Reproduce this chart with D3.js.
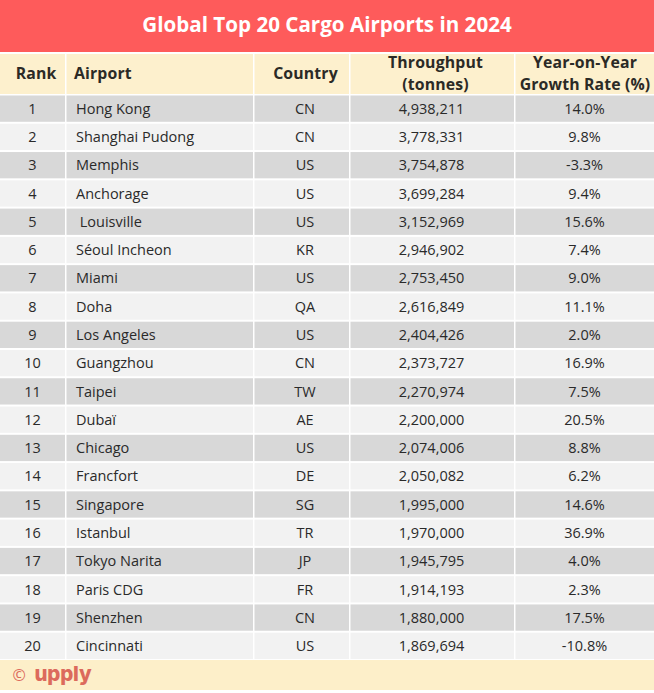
<!DOCTYPE html>
<html>
<head>
<meta charset="utf-8">
<script src="https://cdnjs.cloudflare.com/ajax/libs/d3/7.8.5/d3.min.js"></script>
<style>
  html, body { margin: 0; padding: 0; background: #fff; }
  svg { display: block; font-family: "Open Sans", sans-serif; }
  text { white-space: pre; }
</style>
</head>
<body>
<div id="chart"></div>
<script>
// Table content
const ranks = d3.range(1, 21).map(String);
const airports = ['Hong Kong', 'Shanghai Pudong', 'Memphis', 'Anchorage', ' Louisville', 'Séoul Incheon', 'Miami', 'Doha', 'Los Angeles', 'Guangzhou', 'Taipei', 'Dubaï', 'Chicago', 'Francfort', 'Singapore', 'Istanbul', 'Tokyo Narita', 'Paris CDG', 'Shenzhen', 'Cincinnati'];
const countries = ['CN', 'CN', 'US', 'US', 'US', 'KR', 'US', 'QA', 'US', 'CN', 'TW', 'AE', 'US', 'DE', 'SG', 'TR', 'JP', 'FR', 'CN', 'US'];
const throughput = [4938211, 3778331, 3754878, 3699284, 3152969, 2946902, 2753450, 2616849, 2404426, 2373727, 2270974, 2200000, 2074006, 2050082, 1995000, 1970000, 1945795, 1914193, 1880000, 1869694];
const growth = [14.0, 9.8, -3.3, 9.4, 15.6, 7.4, 9.0, 11.1, 2.0, 16.9, 7.5, 20.5, 8.8, 6.2, 14.6, 36.9, 4.0, 2.3, 17.5, -10.8];

const columns = ['Rank', 'Airport', 'Country', 'Throughput', 'Growth'];
const headerLines = [['Rank'], ['Airport'], ['Country'], ['Throughput', '(tonnes)'], ['Year-on-Year', 'Growth Rate (%)']];
const columnEdges = [0, 65, 253, 349, 514, 654];
// text centres differ a little from the cell centres in the original
const headerCentre = [36, 0, 305.5, 435.5, 585];
const cellCentre = [32.5, 0, 305, 431.5, 584.5];

const width = 654;
const height = 693;

const svg = d3.select('#chart')
    .append('svg')
    .attr('width', width)
    .attr('height', height);

// Row positions
const y = d3.scaleBand()
    .domain(ranks)
    .range([94.5, 660])
    .paddingInner(0.07)
    .paddingOuter(0.035);

const colX = d3.scaleOrdinal().domain(columns).range(columnEdges.slice(0, 5));
const colW = d3.scaleOrdinal().domain(columns).range(columnEdges.slice(1).map((d, i) => d - columnEdges[i]));

// Title band
svg.append('rect')
    .attr('width', width)
    .attr('height', 52)
    .attr('fill', '#fe5b5b');

svg.append('text')
    .attr('x', 327)
    .attr('y', 32)
    .attr('text-anchor', 'middle')
    .attr('fill', '#fff')
    .attr('font-size', 20.6)
    .attr('font-weight', 700)
    .text('Global Top 20 Cargo Airports in 2024');

// Header cells
const header = svg.append('g').attr('class', 'header');

columns.forEach(function(c, i) {
    const x0 = colX(c);
    const w = colW(c);
    const left = i === 0 ? x0 : x0 + 1.5;
    header.append('rect')
        .attr('x', left)
        .attr('y', 54)
        .attr('width', w - (left - x0))
        .attr('height', 40)
        .attr('fill', '#fdf0cd');

    const lines = headerLines[i];
    lines.forEach(function(line, k) {
        const label = header.append('text')
            .attr('fill', '#2b2a26')
            .attr('font-size', 15.8)
            .attr('letter-spacing', 0.15)
            .attr('font-weight', 700)
            .attr('y', lines.length === 1 ? 79 : 68.4 + k * 21.6)
            .text(line);
        if (c === 'Airport') {
            label.attr('x', 74);
        } else {
            label.attr('x', headerCentre[i]).attr('text-anchor', 'middle');
        }
    });
});

// Body rows
const rows = svg.append('g')
    .attr('class', 'rows')
    .selectAll('g')
    .data(ranks)
    .enter()
    .append('g');

const cellText = [
    (d, i) => d,
    (d, i) => airports[i],
    (d, i) => countries[i],
    (d, i) => d3.format(',')(throughput[i]),
    (d, i) => growth[i].toFixed(1) + '%'
];

columns.forEach(function(c, j) {
    const x0 = colX(c);
    const w = colW(c);
    const left = j === 0 ? x0 : x0 + 1.5;

    rows.append('rect')
        .attr('x', left)
        .attr('y', d => y(d))
        .attr('width', w - (left - x0))
        .attr('height', y.bandwidth())
        .attr('fill', (d, i) => i % 2 === 0 ? '#d8d8d8' : '#f2f2f2');

    rows.append('text')
        .attr('x', c === 'Airport' ? 76 : cellCentre[j])
        .attr('y', d => y(d) + y.bandwidth() / 2 + 5.2)
        .attr('text-anchor', c === 'Airport' ? 'start' : 'middle')
        .attr('fill', '#2a2a2a')
        .attr('font-size', 14.5)
        .text(cellText[j]);
});

// Footer band
svg.append('rect')
    .attr('y', 660)
    .attr('width', width)
    .attr('height', 30)
    .attr('fill', '#fdefc9');

svg.append('text')
    .attr('x', 12.5)
    .attr('y', 681)
    .attr('fill', '#dc6a5c')
    .attr('font-size', 16)
    .text('©');

svg.append('text')
    .attr('x', 34.5)
    .attr('y', 680.5)
    .attr('fill', '#dc6a5c')
    .attr('font-family', 'Inter, sans-serif')
    .attr('font-size', 20.5)
    .attr('font-weight', 800)
    .attr('letter-spacing', -0.2)
    .text('upply');
</script>
</body>
</html>
